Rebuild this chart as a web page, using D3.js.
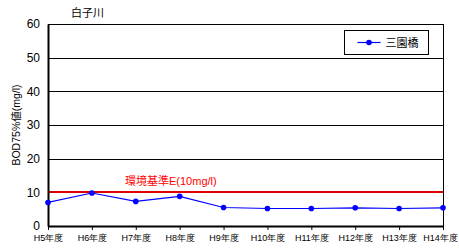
<!DOCTYPE html>
<html lang="ja">
<head>
  <meta charset="UTF-8" />
  <title>白子川</title>
  <style>
    body { margin: 0; background: white; }
    svg { display: block; font-family: "Liberation Sans", Arial, "Noto Sans CJK JP", sans-serif; }
  </style>
</head>
<body>
  <svg width="459" height="248"></svg>

  <script src="https://d3js.org/d3.v7.min.js"></script>
  <script>
    const years = ["H5年度", "H6年度", "H7年度", "H8年度", "H9年度", "H10年度", "H11年度", "H12年度", "H13年度", "H14年度"];
    const mizonoBashi = [7.0, 9.8, 7.3, 8.8, 5.5, 5.2, 5.2, 5.4, 5.2, 5.4];
    const yTicks = [0, 10, 20, 30, 40, 50, 60];
    const standard = 10;

    const margin = { left: 48, right: 16, top: 24, bottom: 22 };
    const width = 459, height = 248;

    const svg = d3.select("svg");

    const x = d3.scalePoint()
      .domain(years)
      .range([margin.left, width - margin.right]);

    const y = d3.scaleLinear()
      .domain([0, 60])
      .range([height - margin.bottom, margin.top]);

    // gridlines
    svg.append("g")
      .selectAll("line")
      .data(yTicks.filter(d => d > 0))
      .join("line")
        .attr("x1", margin.left)
        .attr("x2", width - margin.right)
        .attr("y1", d => Math.round(y(d)) + 0.5)
        .attr("y2", d => Math.round(y(d)) + 0.5)
        .attr("stroke", "#000")
        .attr("stroke-width", 1);

    // right border
    svg.append("line")
      .attr("x1", width - margin.right + 0.5)
      .attr("x2", width - margin.right + 0.5)
      .attr("y1", y(60))
      .attr("y2", y(0))
      .attr("stroke", "#000");

    // standard line
    svg.append("line")
      .attr("x1", margin.left)
      .attr("x2", width - margin.right)
      .attr("y1", Math.round(y(standard)))
      .attr("y2", Math.round(y(standard)))
      .attr("stroke", "#e00000")
      .attr("stroke-width", 2);

    svg.append("text")
      .attr("x", 125)
      .attr("y", y(standard) - 7)
      .attr("fill", "#ff0000")
      .style("font-size", "11px")
      .text("環境基準E(10mg/l)");

    // y axis
    const yAxis = svg.append("g")
      .attr("transform", `translate(${margin.left},0)`)
      .call(d3.axisLeft(y).tickValues(yTicks).tickSize(0).tickPadding(8));
    yAxis.select(".domain").attr("stroke", "#000").attr("stroke-width", 2);
    yAxis.selectAll("text")
      .style("font-size", "12px")
      .attr("fill", "#000");

    // x axis
    const xAxis = svg.append("g")
      .attr("transform", `translate(0,${y(0)})`)
      .call(d3.axisBottom(x).tickSize(4).tickSizeOuter(0).tickPadding(5));
    xAxis.select(".domain").attr("stroke", "#000").attr("stroke-width", 2);
    xAxis.selectAll(".tick line").attr("stroke", "#000");
    xAxis.selectAll("text")
      .style("font-size", "9px")
      .attr("fill", "#000");
    // keep the last label inside the window
    xAxis.selectAll(".tick text").filter(d => d === years[years.length - 1])
      .attr("dx", -3);

    // y axis title
    svg.append("text")
      .attr("transform", `translate(20,${(y(0) + y(60)) / 2}) rotate(-90)`)
      .attr("text-anchor", "middle")
      .style("font-size", "10.5px")
      .text("BOD75%値(mg/l)");

    // chart title
    svg.append("text")
      .attr("x", 71)
      .attr("y", 17)
      .style("font-size", "11px")
      .text("白子川");

    // series
    const line = d3.line()
      .x((d, i) => x(years[i]))
      .y(d => y(d));

    svg.append("path")
      .datum(mizonoBashi)
      .attr("fill", "none")
      .attr("stroke", "#0000ff")
      .attr("stroke-width", 1.2)
      .attr("d", line);

    svg.append("g")
      .selectAll("circle")
      .data(mizonoBashi)
      .join("circle")
        .attr("cx", (d, i) => x(years[i]))
        .attr("cy", d => y(d))
        .attr("r", 2.8)
        .attr("fill", "#0000ff");

    // legend
    const legend = svg.append("g").attr("transform", "translate(344.5,30.5)");
    legend.append("rect")
      .attr("width", 84)
      .attr("height", 24)
      .attr("fill", "white")
      .attr("stroke", "#000");
    legend.append("line")
      .attr("x1", 13).attr("x2", 36)
      .attr("y1", 12).attr("y2", 12)
      .attr("stroke", "#0000ff")
      .attr("stroke-width", 1.2);
    legend.append("circle")
      .attr("cx", 24.5).attr("cy", 12).attr("r", 2.8)
      .attr("fill", "#0000ff");
    legend.append("text")
      .attr("x", 41).attr("y", 16)
      .style("font-size", "11px")
      .text("三園橋");
  </script>
</body>
</html>
